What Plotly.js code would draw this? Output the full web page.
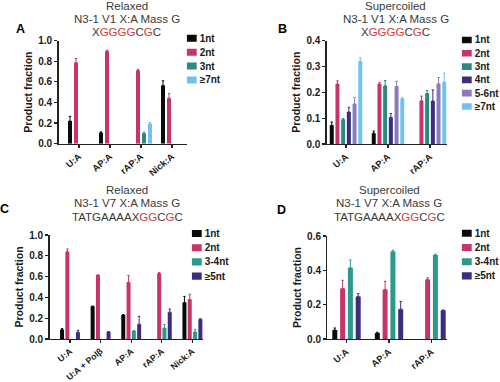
<!DOCTYPE html>
<html>
<head>
<meta charset="utf-8">
<script src="https://cdn.plot.ly/plotly-3.0.1.min.js"></script>
<style>html,body{margin:0;padding:0;background:#fff;}#chart{width:500px;height:382px;}</style>
</head>
<body>
<div id="chart"></div>
<script>
// ---------- DATA ----------
// Panel A : Relaxed, N3-1 V1
const catsA = ['U:A', 'AP:A', 'rAP:A', 'Nick:A'];
const seriesA = ['1nt', '2nt', '3nt', '≥7nt'];
const valsA_1nt = [0.22, 0.105, null, 0.565];
const valsA_2nt = [0.785, 0.895, 0.71, 0.44];
const valsA_3nt = [null, null, 0.10, null];
const valsA_7nt = [null, null, 0.19, null];
const errA_1nt = [0.045, 0.01, null, 0.045];
const errA_2nt = [0.04, 0.01, 0.01, 0.045];
const errA_3nt = [null, null, 0.01, null];
const errA_7nt = [null, null, 0.015, null];

// Panel B : Supercoiled, N3-1 V1
const catsB = ['U:A', 'AP:A', 'rAP:A'];
const seriesB = ['1nt', '2nt', '3nt', '4nt', '5-6nt', '≥7nt'];
const valsB_1nt = [0.072, 0.042, null];
const valsB_2nt = [0.232, 0.232, 0.167];
const valsB_3nt = [0.095, 0.225, 0.195];
const valsB_4nt = [0.124, 0.103, 0.166];
const valsB_56nt = [0.155, 0.223, 0.233];
const valsB_7nt = [0.32, 0.175, 0.24];
const errB_1nt = [0.013, 0.008, null];
const errB_2nt = [0.012, 0.005, 0.018];
const errB_3nt = [0.003, 0.02, 0.012];
const errB_4nt = [0.018, 0.015, 0.043];
const errB_56nt = [0.025, 0.019, 0.024];
const errB_7nt = [0.013, 0.005, 0.034];

// Panel C : Relaxed, N3-1 V7
const catsC = ['U:A', 'U:A + Polβ', 'AP:A', 'rAP:A', 'Nick:A'];
const seriesC = ['1nt', '2nt', '3-4nt', '≥5nt'];
const valsC_1nt = [0.09, 0.315, 0.23, null, 0.35];
const valsC_2nt = [0.84, 0.615, 0.545, 0.63, 0.38];
const valsC_34nt = [null, null, 0.077, 0.105, 0.068];
const valsC_5nt = [0.065, 0.067, 0.143, 0.258, 0.19];
const errC_1nt = [0.01, 0, 0.005, null, 0.06];
const errC_2nt = [0.025, 0, 0.065, 0.008, 0.05];
const errC_34nt = [null, null, 0.004, 0.035, 0.025];
const errC_5nt = [0.018, 0.004, 0.075, 0.03, 0.004];

// Panel D : Supercoiled, N3-1 V7
const catsD = ['U:A', 'AP:A', 'rAP:A'];
const seriesD = ['1nt', '2nt', '3-4nt', '≥5nt'];
const valsD_1nt = [0.052, 0.035, null];
const valsD_2nt = [0.294, 0.288, 0.347];
const valsD_34nt = [0.415, 0.51, 0.49];
const valsD_5nt = [0.248, 0.174, 0.168];
const errD_1nt = [0.012, 0.004, null];
const errD_2nt = [0.048, 0.048, 0.01];
const errD_34nt = [0.045, 0.008, 0.004];
const errD_5nt = [0.016, 0.045, 0];

// ---------- STYLE ----------
const FONT = '"Liberation Sans", Arial, sans-serif';
const C_BLACK = '#0a0a0a', C_PINK = '#c8346a', C_TEAL = '#2a8a80', C_TEAL2 = '#2a9a8a',
      C_PURPLE = '#3b2d7f', C_LAV = '#8d7ab8', C_SKY = '#6ec3ec';
const RED = '#d43a3a', GREY = '#3a3a3a';
const W = 500, H = 382;

const panels = [
  { cats: catsA, names: seriesA, vals: [valsA_1nt, valsA_2nt, valsA_3nt, valsA_7nt],
    errs: [errA_1nt, errA_2nt, errA_3nt, errA_7nt],
    colors: [C_BLACK, C_PINK, C_TEAL, C_SKY],
    px: { l: 58.5, r: 186.7, t: 40.5, b: 143.7, c0: 79, cat: 31, slot: 6, bar: 4 }, ymax: 1.0, dtick: 0.2,
    xfont: 9.3, leg: { l: 186.7, first: 38.3, gap: 13.9 } },
  { cats: catsB, names: seriesB, vals: [valsB_1nt, valsB_2nt, valsB_3nt, valsB_4nt, valsB_56nt, valsB_7nt],
    errs: [errB_1nt, errB_2nt, errB_3nt, errB_4nt, errB_56nt, errB_7nt],
    colors: [C_BLACK, C_PINK, C_TEAL, C_PURPLE, C_LAV, C_SKY],
    px: { l: 326.7, r: 447, t: 40.5, b: 144, c0: 346, cat: 42, slot: 5.7, bar: 4 }, ymax: 0.4, dtick: 0.1,
    xfont: 9.3, leg: { l: 461.7, first: 40, gap: 13.3 } },
  { cats: catsC, names: seriesC, vals: [valsC_1nt, valsC_2nt, valsC_34nt, valsC_5nt],
    errs: [errC_1nt, errC_2nt, errC_34nt, errC_5nt],
    colors: [C_BLACK, C_PINK, C_TEAL2, C_PURPLE],
    px: { l: 49.5, r: 203, t: 235, b: 339, c0: 70, cat: 30.6, slot: 5.3, bar: 4 }, ymax: 1.0, dtick: 0.2,
    xfont: 8.8, leg: { l: 191.7, first: 233.5, gap: 14.2 } },
  { cats: catsD, names: seriesD, vals: [valsD_1nt, valsD_2nt, valsD_34nt, valsD_5nt],
    errs: [errD_1nt, errD_2nt, errD_34nt, errD_5nt],
    colors: [C_BLACK, C_PINK, C_TEAL2, C_PURPLE],
    px: { l: 327.3, r: 446.7, t: 236, b: 339, c0: 346.5, cat: 42.5, slot: 7.8, bar: 5 }, ymax: 0.6, dtick: 0.2,
    xfont: 9.3, leg: { l: 461.7, first: 233.3, gap: 14.2 } }
];

const traces = [];
const layout = {
  width: W, height: H, margin: { l: 0, r: 0, t: 0, b: 0 },
  paper_bgcolor: '#fff', plot_bgcolor: 'rgba(0,0,0,0)',
  barmode: 'overlay', showlegend: false,
  font: { family: FONT, color: '#111' },
  annotations: []
};

panels.forEach((p, i) => {
  const s = i === 0 ? '' : String(i + 1);
  const n = p.names.length;
  const slot = p.px.slot / p.px.cat, bw = p.px.bar / p.px.cat;
  p.names.forEach((name, k) => {
    traces.push({
      type: 'bar', name: name, x: p.cats, y: p.vals[k],
      xaxis: 'x' + s, yaxis: 'y' + s,
      width: bw, offset: (k - (n - 1) / 2) * slot - bw / 2,
      marker: { color: p.colors[k], line: { width: 0 } },
      error_y: { type: 'data', symmetric: false, array: p.errs[k],
                 arrayminus: p.errs[k].map(() => 0), color: p.colors[k], thickness: 1, width: 1.2 },
      showlegend: false, hoverinfo: 'skip'
    });
  });
  const axis = {
    showline: true, linecolor: '#222', linewidth: 1.3, ticks: 'outside', ticklen: 3,
    tickcolor: '#222', tickwidth: 1.2, showgrid: false, zeroline: false, fixedrange: true,
    tickfont: { family: FONT, size: 10, color: '#1a1a1a', weight: 'bold' }
  };
  layout['xaxis' + s] = Object.assign({}, axis, {
    type: 'category', anchor: 'y' + s,
    domain: [p.px.l / W, p.px.r / W],
    range: [(p.px.l - p.px.c0) / p.px.cat, (p.px.r - p.px.c0) / p.px.cat],
    tickangle: -40, ticklen: 2.5,
    tickfont: { family: FONT, size: p.xfont, color: '#1a1a1a', weight: 'bold' }
  });
  layout['yaxis' + s] = Object.assign({}, axis, {
    anchor: 'x' + s, domain: [(H - p.px.b) / H, (H - p.px.t) / H],
    range: [0, p.ymax], dtick: p.dtick, tick0: 0, tickformat: '.1f',
    title: { text: 'Product fraction', standoff: 3,
             font: { family: FONT, size: 10.5, color: '#1a1a1a', weight: 'bold' } }
  });
  // legend built as a small horizontal bar chart of swatches
  const ls = String(i + 5);
  traces.push({
    type: 'bar', orientation: 'h', x: p.names.map(() => 1), y: p.names.map((_, k) => k),
    xaxis: 'x' + ls, yaxis: 'y' + ls, width: 0.5,
    marker: { color: p.colors, line: { width: 0 } },
    text: p.names, textposition: 'outside', constraintext: 'none', cliponaxis: false, textangle: 0,
    textfont: { family: FONT, size: 10, color: '#1a1a1a', weight: 'bold' },
    showlegend: false, hoverinfo: 'skip'
  });
  const top = p.leg.first - p.leg.gap / 2, bot = p.leg.first + (n - 0.5) * p.leg.gap;
  layout['xaxis' + ls] = { domain: [p.leg.l / W, (p.leg.l + 13) / W], range: [0, 1.3], visible: false,
                           anchor: 'y' + ls, fixedrange: true };
  layout['yaxis' + ls] = { domain: [(H - bot) / H, (H - top) / H], range: [n - 0.5, -0.5], visible: false,
                           anchor: 'x' + ls, fixedrange: true };
});

// titles and panel letters
const red = t => '<span style="color:' + RED + '">' + t + '</span>';
const titles = [
  { x: 126.5, ys: [5.5, 19, 32], lines: ['Relaxed', 'N3-1 V1 X:A Mass G', 'X' + red('GGGG') + 'C' + red('G') + 'C'] },
  { x: 395.8, ys: [5.5, 19, 32], lines: ['Supercoiled', 'N3-1 V1 X:A Mass G', 'X' + red('GGGG') + 'C' + red('G') + 'C'] },
  { x: 127, ys: [190, 203.3, 216.5], lines: ['Relaxed', 'N3-1 V7 X:A Mass G', 'TATGAAAAX' + red('GG') + 'C' + red('G') + 'C'] },
  { x: 389, ys: [190, 203.3, 216.5], lines: ['Supercoiled', 'N3-1 V7 X:A Mass G', 'TATGAAAAX' + red('GG') + 'C' + red('G') + 'C'] }
];
titles.forEach(t => {
  t.lines.forEach((line, j) => {
    layout.annotations.push({ xref: 'paper', yref: 'paper', x: t.x / W, y: 1 - t.ys[j] / H,
      xanchor: 'center', yanchor: 'middle', showarrow: false, text: line,
      font: { family: FONT, size: 11.5, color: GREY } });
  });
});
const letters = [['A', 20.5, 29], ['B', 282, 29], ['C', 4, 209], ['D', 281.3, 210]];
letters.forEach(l => {
  layout.annotations.push({ xref: 'paper', yref: 'paper', x: l[1] / W, y: 1 - l[2] / H,
    xanchor: 'center', yanchor: 'middle', showarrow: false, text: '<b>' + l[0] + '</b>',
    font: { family: FONT, size: 12.5, color: '#000' } });
});

Plotly.newPlot('chart', traces, layout, { staticPlot: true, displayModeBar: false });
</script>
</body>
</html>
